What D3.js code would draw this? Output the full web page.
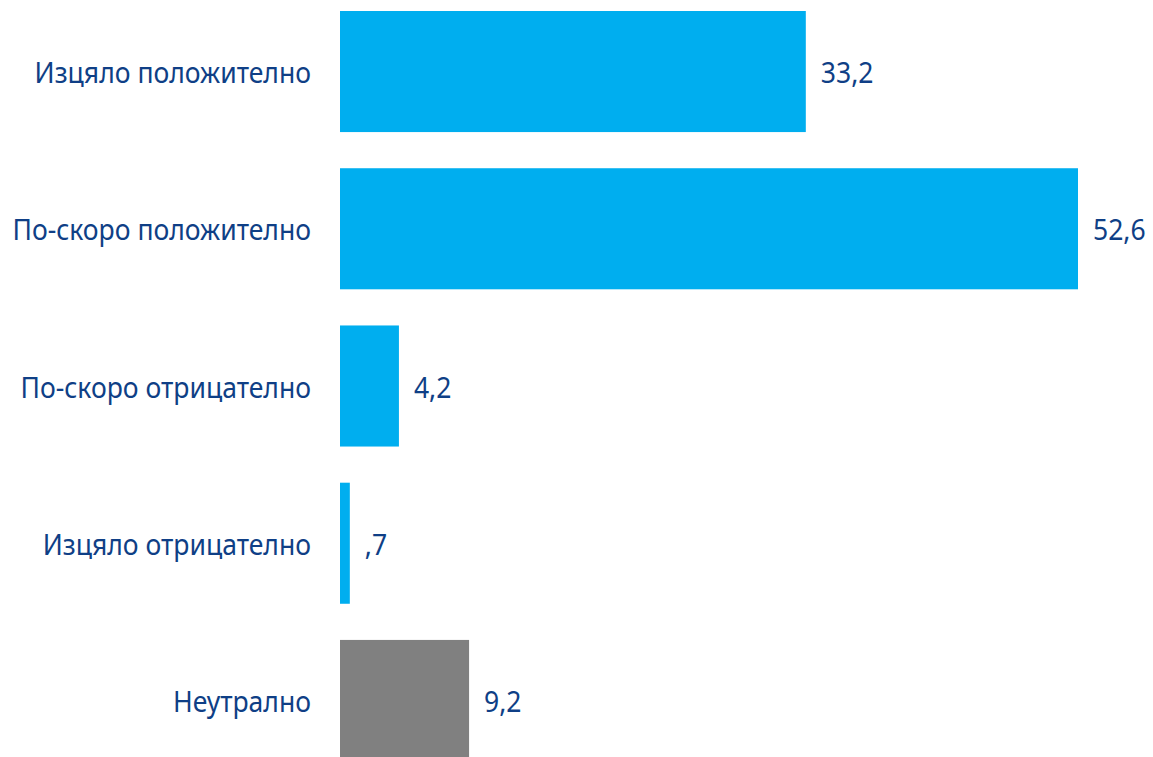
<!DOCTYPE html>
<html>
<head>
<meta charset="utf-8">
<script src="https://cdn.jsdelivr.net/npm/d3@7"></script>
<style>
  html, body { margin: 0; padding: 0; background: #fff; }
  svg { display: block; }
  text { font-family: "Noto Sans", "Open Sans", sans-serif; fill: #0f3f86; }
</style>
</head>
<body>
<svg id="chart" width="1153" height="757"></svg>
<script>
const categories = [
  "Изцяло положително",
  "По-скоро положително",
  "По-скоро отрицателно",
  "Изцяло отрицателно",
  "Неутрално"
];
const values = [33.2, 52.6, 4.2, 0.7, 9.2];
const valueLabels = ["33,2", "52,6", "4,2", ",7", "9,2"];
const barColors = ["#00aeef", "#00aeef", "#00aeef", "#00aeef", "#808080"];

const data = categories.map((c, i) => ({ cat: c, v: values[i], label: valueLabels[i], color: barColors[i] }));

const svg = d3.select("#chart");
const fontSize = 30;
const squeeze = 0.885; // condensed look for all chart text

const x = d3.scaleLinear().domain([0, 52.6]).range([340, 1078]);
const y = d3.scaleBand().domain(categories).range([11, 761]).paddingInner(0.23).paddingOuter(0);

svg.selectAll("rect.bar")
  .data(data)
  .join("rect")
  .attr("class", "bar")
  .attr("x", x(0))
  .attr("y", d => y(d.cat))
  .attr("width", d => x(d.v) - x(0))
  .attr("height", y.bandwidth())
  .attr("fill", d => d.color);

// category labels, right-aligned to the left of the bars
svg.selectAll("text.cat")
  .data(data)
  .join("text")
  .attr("class", "cat")
  .attr("transform", d => `translate(311, ${y(d.cat) + y.bandwidth() / 2 + 1}) scale(${squeeze},1)`)
  .attr("text-anchor", "end")
  .attr("dy", "0.35em")
  .style("font-size", fontSize + "px")
  .text(d => d.cat);

// value labels after bar ends
svg.selectAll("text.val")
  .data(data)
  .join("text")
  .attr("class", "val")
  .attr("transform", d => `translate(${x(d.v) + 15}, ${y(d.cat) + y.bandwidth() / 2 + 1}) scale(${squeeze},1)`)
  .attr("dy", "0.35em")
  .style("font-size", fontSize + "px")
  .text(d => d.label);
</script>
</body>
</html>
